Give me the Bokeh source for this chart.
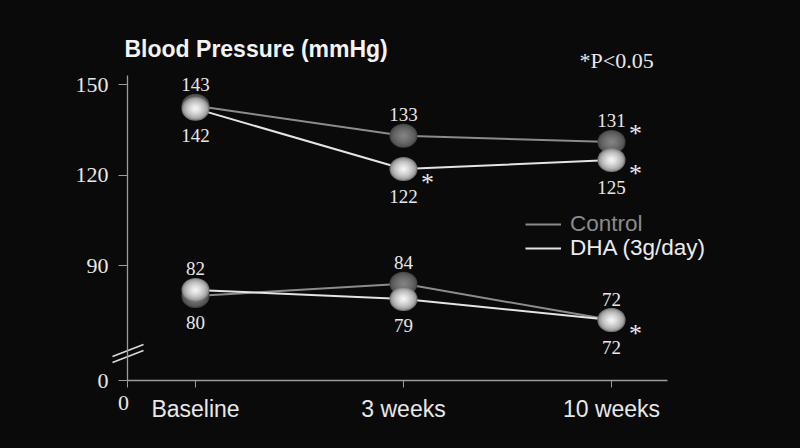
from bokeh.plotting import figure
from bokeh.models import Range1d, FixedTicker, Label, Legend, LegendItem, ColumnDataSource
from bokeh.core.properties import value
from bokeh.embed import file_html
from bokeh.resources import INLINE

# ---------------- data ----------------
categories = ["Baseline", "3 weeks", "10 weeks"]
control_sys = [143, 133, 131]
dha_sys = [142, 122, 125]
control_dia = [80, 84, 72]
dha_dia = [82, 79, 72]
control_sys_sig = [False, False, True]
dha_sys_sig = [False, True, True]
control_dia_sig = [False, False, False]
dha_dia_sig = [False, False, True]
y_ticks = [90, 120, 150]
y_floor_tick = 52          # where the broken axis starts
y_floor_label = "0"
x_origin_label = "0"
title_text = "Blood Pressure (mmHg)"
sig_text = "*P<0.05"
series_names = ["Control", "DHA (3g/day)"]

# ---------------- style / layout ----------------
BG = "#0a0a0a"
AXIS = "#9c9c9c"
TXT = "#e8e8e8"
CTRL_LINE = "#8c8c8c"
DHA_LINE = "#e4e4e4"
SERIF = "Liberation Serif"
SANS = "Liberation Sans"

W, H = 784, 432
L, B = 0, 0                        # frame left / bottom border (px)
AX_X, AX_Y, AX_TOP, AX_RIGHT = 127, 380, 75, 667
CAT0_PX, CATN_PX = 195, 611
TOP_TICK_PX = 84

n = len(categories)
xs = list(range(n))
px_x = (CATN_PX - CAT0_PX) / (n - 1)
px_y = (AX_Y - TOP_TICK_PX) / (y_ticks[-1] - y_floor_tick)
x_lo = -(CAT0_PX - L) / px_x
x_hi = (n - 1) + (W - CATN_PX) / px_x
x_origin = -(CAT0_PX - AX_X) / px_x
x_axis_end = (n - 1) + (AX_RIGHT - CATN_PX) / px_x
y_lo = y_floor_tick - ((H - B) - AX_Y) / px_y
y_hi = y_ticks[-1] + TOP_TICK_PX / px_y
y_axis_top = y_ticks[-1] + (TOP_TICK_PX - AX_TOP) / px_y


def sx(px):
    return px - L


def sy(py):
    return (H - B) - py


p = figure(width=W, height=H, output_backend="svg", toolbar_location=None,
           x_range=Range1d(x_lo, x_hi), y_range=Range1d(y_lo, y_hi),
           background_fill_color=BG, border_fill_color=BG, outline_line_color=None,
           min_border_left=L, min_border_right=0, min_border_top=0, min_border_bottom=B)
p.grid.visible = False

# axes (placed at fixed data locations inside the frame)
xa = p.xaxis[0]
xa.fixed_location = y_floor_tick
xa.bounds = (x_origin, x_axis_end)
xa.ticker = FixedTicker(ticks=[x_origin] + xs)
ov = {x_origin: ""}
for i, c in enumerate(categories):
    ov[i] = c
xa.major_label_overrides = ov
xa.major_label_text_font = SANS
xa.major_label_text_font_size = "23px"
xa.major_label_text_color = TXT
xa.major_label_standoff = 8
xa.major_tick_out = 7
xa.major_tick_in = 0
xa.minor_tick_out = 0
xa.axis_line_color = AXIS
xa.major_tick_line_color = AXIS
xa.axis_line_width = 1.3

ya = p.yaxis[0]
ya.fixed_location = x_origin
ya.bounds = (y_floor_tick, y_axis_top)
ya.ticker = FixedTicker(ticks=[y_floor_tick] + y_ticks)
ya.major_label_overrides = {y_floor_tick: y_floor_label}
ya.major_label_text_font = SERIF
ya.major_label_text_font_size = "22px"
ya.major_label_text_color = TXT
ya.major_label_standoff = 10
ya.major_tick_out = 9
ya.major_tick_in = 0
ya.minor_tick_out = 0
ya.axis_line_color = AXIS
ya.major_tick_line_color = AXIS
ya.axis_line_width = 1.3

# serif "0" at the origin of the x axis
p.add_layout(Label(x=x_origin, y=y_floor_tick, x_offset=-4, y_offset=-22, text=x_origin_label,
                   text_font=SERIF, text_font_size="22px", text_color=TXT,
                   text_align="center", text_baseline="alphabetic"))

# axis break marks
bx0 = x_origin - 15 / px_x
bx1 = x_origin + 16 / px_x
for base in (18, 24):
    p.segment(x0=[bx0], y0=[y_floor_tick + base / px_y], x1=[bx1],
              y1=[y_floor_tick + (base + 12) / px_y], line_color="#dcdcdc", line_width=1.5)

# lines
r_c1 = p.line(xs, control_sys, line_color=CTRL_LINE, line_width=2)
r_d1 = p.line(xs, dha_sys, line_color=DHA_LINE, line_width=2)
p.line(xs, control_dia, line_color=CTRL_LINE, line_width=2)
p.line(xs, dha_dia, line_color=DHA_LINE, line_width=2)


def mix(c1, c2, t):
    a = [int(c1[i:i + 2], 16) for i in (1, 3, 5)]
    b = [int(c2[i:i + 2], 16) for i in (1, 3, 5)]
    return "#%02x%02x%02x" % tuple(int(round(a[k] + (b[k] - a[k]) * t)) for k in range(3))


def sphere(ys, edge, center, gamma, n_layers=10):
    for k in range(n_layers):
        t = k / (n_layers - 1)
        f = 1 - 0.9 * t
        p.ellipse(x=xs, y=ys, width=28 * f, height=24 * f,
                  width_units="screen", height_units="screen",
                  fill_color=mix(edge, center, t ** gamma), line_color=None)


sphere(control_sys, "#464646", "#828282", 0.6)
sphere(control_dia, "#464646", "#828282", 0.6)
sphere(dha_sys, "#7a7a7a", "#f4f4f4", 0.55)
sphere(dha_dia, "#7a7a7a", "#f4f4f4", 0.55)


def value_labels(vals, other, sig, is_control):
    above = [(v >= o) if is_control else (v > o) for v, o in zip(vals, other)]
    src = ColumnDataSource(dict(x=xs, y=vals, t=[str(v) for v in vals],
                                yo=[-21 if a else 27 for a in above]))
    p.text(x="x", y="y", text="t", y_offset="yo", source=src,
           text_font=value(SERIF), text_font_size="19px", text_color=TXT,
           text_align="center", text_baseline="alphabetic")
    sxs = [x for x, s in zip(xs, sig) if s]
    sys_ = [v for v, s in zip(vals, sig) if s]
    so = [-8 if a else 13 for a, s in zip(above, sig) if s]
    if sxs:
        ssrc = ColumnDataSource(dict(x=sxs, y=sys_, yo=so, t=["*"] * len(sxs)))
        p.text(x="x", y="y", text="t", y_offset="yo", x_offset=24, source=ssrc,
               text_font=value(SERIF), text_font_size="26px", text_color=TXT,
               text_align="center", text_baseline="alphabetic")


value_labels(control_sys, dha_sys, control_sys_sig, True)
value_labels(dha_sys, control_sys, dha_sys_sig, False)
value_labels(control_dia, dha_dia, control_dia_sig, True)
value_labels(dha_dia, control_dia, dha_dia_sig, False)

# title & significance note
p.add_layout(Label(x=sx(124), y=sy(48), x_units="screen", y_units="screen", text=title_text,
                   text_font=SANS, text_font_style="bold", text_font_size="23px",
                   text_color="#f4f4f4", text_baseline="alphabetic"))
p.add_layout(Label(x=sx(579), y=sy(60), x_units="screen", y_units="screen", text=sig_text,
                   text_font=SERIF, text_font_size="22px", text_color=TXT,
                   text_baseline="alphabetic"))

# legends (one per series so each label keeps its own colour)
for name, r, col, bottom in ((series_names[0], r_c1, "#8a8a8a", 237),
                             (series_names[1], r_d1, "#ececec", 261)):
    leg = Legend(items=[LegendItem(label=name, renderers=[r])], location=(sx(525), sy(bottom)),
                 background_fill_alpha=0, border_line_alpha=0,
                 label_text_color=col, label_text_font=SANS, label_text_font_size="22.5px",
                 glyph_width=36, glyph_height=20, label_height=20, label_standoff=9,
                 padding=0, margin=0, spacing=0)
    p.add_layout(leg)

open("out.html", "w").write(
    file_html(p, INLINE, title="Blood Pressure").replace(
        "<head>", "<head><style>html,body{background:#0a0a0a;}</style>", 1))
